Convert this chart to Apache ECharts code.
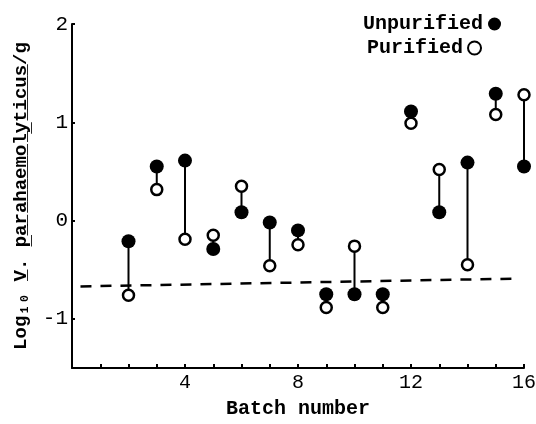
<!DOCTYPE html>
<html>
<head>
<meta charset="utf-8">
<script src="https://cdn.jsdelivr.net/npm/echarts@6/dist/echarts.min.js"></script>
<style>
  html, body { margin: 0; padding: 0; background: #fff; }
  #chart { width: 536px; height: 424px; }
</style>
</head>
<body>
<div id="chart"></div>
<script>
// Log10 counts per gram for each batch, before and after purification
const batches    = [2, 3, 4, 5, 6, 7, 8, 9, 10, 11, 12, 13, 14, 15, 16];
const unpurified = [-0.21, 0.55, 0.61, -0.29, 0.085, -0.02, -0.10, -0.75, -0.75, -0.75, 1.11, 0.085, 0.59, 1.29, 0.55];
const purified   = [-0.76, 0.315, -0.19, -0.15, 0.35, -0.46, -0.245, -0.885, -0.26, -0.885, 0.99, 0.52, -0.45, 1.08, 1.28];

// Dashed reference line (end points)
const trendX = [0.3, 15.8];
const trendY = [-0.67, -0.59];

// Axis labels
const xTickLabels = [4, 8, 12, 16];
const yTickLabels = [-1, 0, 1, 2];

const FONT = 'Liberation Mono';
const INK = '#000';

function underline(s) {
  return s.split('').map(c => c + '\u0332').join('');
}

const yName = 'Log\u2081\u2080 ' + underline('V') + '. ' + underline('parahaemolyticus') + '/g';

const pairs = batches.map((b, i) => [b, unpurified[i], purified[i]]);
const trend = trendX.map((x, i) => [x, trendY[i]]);

const legendText = { fontFamily: FONT, fontSize: 20, lineHeight: 20, fontWeight: 'bold', color: INK };

const chart = echarts.init(document.getElementById('chart'), null, { renderer: 'canvas' });

chart.setOption({
  animation: false,
  backgroundColor: '#fff',
  grid: { left: 72, right: 12, top: 24, bottom: 56, containLabel: false, outerBoundsMode: 'none' },
  legend: [
    {
      left: 358, top: 9, align: 'right',
      itemWidth: 13, itemHeight: 13,
      data: ['Unpurified'],
      textStyle: legendText
    },
    {
      left: 362, top: 33, align: 'right',
      itemWidth: 13, itemHeight: 13,
      data: ['Purified'],
      textStyle: legendText
    }
  ],
  xAxis: {
    type: 'value',
    min: 0,
    max: 16,
    interval: 1,
    name: 'Batch number',
    nameLocation: 'middle',
    nameGap: 31,
    nameTextStyle: { fontFamily: FONT, fontSize: 20, fontWeight: 'bold', color: INK },
    axisLine: { onZero: false, lineStyle: { color: INK, width: 2 } },
    axisTick: { inside: true, length: 4, lineStyle: { color: INK, width: 2 } },
    axisLabel: { customValues: xTickLabels, margin: 5, fontFamily: FONT, fontSize: 20, color: INK },
    splitLine: { show: false }
  },
  yAxis: {
    type: 'value',
    min: -1.5,
    max: 2,
    name: yName,
    nameLocation: 'middle',
    nameRotate: 90,
    nameGap: 41,
    nameTextStyle: { fontFamily: FONT, fontSize: 19, fontWeight: 'bold', color: INK },
    axisLine: { onZero: false, lineStyle: { color: INK, width: 2 } },
    axisTick: { customValues: yTickLabels, inside: true, length: 3, lineStyle: { color: INK, width: 2 } },
    axisLabel: { customValues: yTickLabels, margin: 4, fontFamily: FONT, fontSize: 21, color: INK },
    splitLine: { show: false }
  },
  series: [
    {
      name: 'connectors',
      type: 'custom',
      silent: true,
      z: 1,
      data: pairs,
      encode: { x: 0, y: [1, 2] },
      renderItem: function (params, api) {
        const a = api.coord([api.value(0), api.value(1)]);
        const b = api.coord([api.value(0), api.value(2)]);
        return {
          type: 'line',
          shape: { x1: a[0], y1: a[1], x2: b[0], y2: b[1] },
          style: { stroke: INK, lineWidth: 2 }
        };
      }
    },
    {
      name: 'trend',
      type: 'line',
      silent: true,
      z: 1,
      data: trend,
      symbol: 'none',
      lineStyle: { color: INK, width: 2.5, type: [11, 9] }
    },
    {
      name: 'Unpurified',
      type: 'scatter',
      z: 3,
      symbol: 'circle',
      symbolSize: 14,
      data: batches.map((b, i) => [b, unpurified[i]]),
      itemStyle: { color: INK, opacity: 1 }
    },
    {
      name: 'Purified',
      type: 'scatter',
      z: 4,
      symbol: 'circle',
      symbolSize: 11,
      data: batches.map((b, i) => [b, purified[i]]),
      itemStyle: { color: '#fff', borderColor: INK, borderWidth: 2.5, opacity: 1 }
    }
  ]
});
</script>
</body>
</html>
